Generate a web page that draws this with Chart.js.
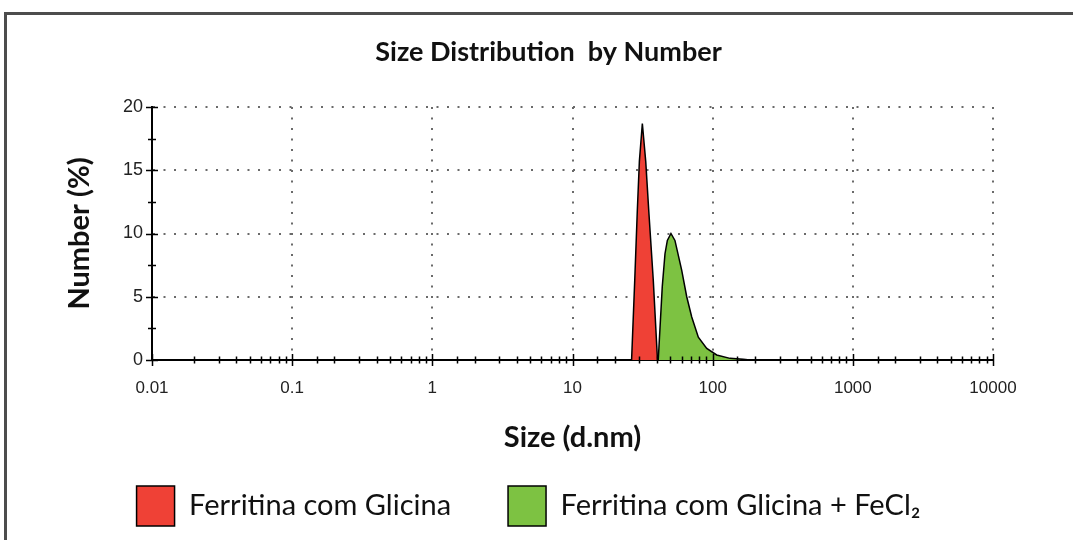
<!DOCTYPE html>
<html>
<head>
<meta charset="utf-8">
<script src="https://cdn.jsdelivr.net/npm/chart.js@4.4.0/dist/chart.umd.min.js"></script>
<style>
html,body{margin:0;padding:0;background:#fff;}
#wrap{width:1073px;height:540px;}
</style>
</head>
<body>
<div id="wrap"><canvas id="c" width="1073" height="540"></canvas></div>
<script>
// ---- data ----
const seriesNames = ['Ferritina com Glicina', 'Ferritina com Glicina + FeCl\u2082'];
const redSizes   = [26.4, 27.8, 29.0, 30.0, 31.5, 33.3, 35.0, 37.7, 40.4];
const redValues  = [0, 6.3, 11.8, 15.7, 18.7, 15.7, 11.8, 6.3, 0];
const greenSizes  = [40.9, 43.7, 45.7, 47.5, 50.4, 53.8, 60.1, 65.3, 70.9, 79.0, 90.7, 106.8, 132.9, 165.4, 184.6];
const greenValues = [0, 5.8, 8.4, 9.45, 10.0, 9.45, 7.1, 5.0, 3.4, 1.8, 0.92, 0.4, 0.13, 0.05, 0];
const xTickLabels = ['0.01', '0.1', '1', '10', '100', '1000', '10000'];
const yTickLabels = ['0', '5', '10', '15', '20'];
const chartTitle = 'Size Distribution  by Number';
const xAxisTitle = 'Size (d.nm)';
const yAxisTitle = 'Number (%)';
const seriesColors = ['#EF4136', '#7DC242'];

function decadeIndex(v) {
  const e = Math.log10(v);
  const r = Math.round(e);
  return Math.abs(e - r) < 1e-6 ? r + 2 : -1;
}

const framePlugin = {
  id: 'frame',
  beforeDraw(chart) {
    const ctx = chart.ctx;
    ctx.save();
    ctx.fillStyle = '#fff';
    ctx.fillRect(0, 0, chart.width, chart.height);
    ctx.strokeStyle = '#4d4d4d';
    ctx.lineWidth = 3;
    ctx.beginPath();
    ctx.moveTo(5.5, chart.height);
    ctx.lineTo(5.5, 13.5);
    ctx.lineTo(chart.width, 13.5);
    ctx.stroke();
    ctx.restore();
  }
};

const shiftPlugin = {
  id: 'shift',
  afterLayout(chart) {
    chart.titleBlock.left += 52; chart.titleBlock.right += 52;
    chart.legend.left += 32; chart.legend.right += 32;
  }
};

const tickPlugin = {
  id: 'crossTicks',
  afterDraw(chart) {
    const ctx = chart.ctx;
    const xs = chart.scales.x, ys = chart.scales.y;
    ctx.save();
    ctx.strokeStyle = '#000';
    ctx.lineWidth = 1.5;
    ctx.beginPath();
    xs.ticks.forEach(t => {
      const px = Math.round(xs.getPixelForValue(t.value)) + 0.5;
      const h = decadeIndex(t.value) >= 0 ? 6 : 3.5;
      ctx.moveTo(px, xs.top - h); ctx.lineTo(px, xs.top + h);
    });
    ys.ticks.forEach(t => {
      const py = Math.round(ys.getPixelForValue(t.value)) + 0.5;
      const w = (t.value % 5 === 0) ? 6 : 4;
      ctx.moveTo(ys.right - w, py); ctx.lineTo(ys.right + w, py);
    });
    ctx.stroke();
    ctx.restore();
  }
};

const mk = (sizes, vals) => sizes.map((s, i) => ({ x: s, y: vals[i] }));

new Chart(document.getElementById('c'), {
  type: 'line',
  data: {
    datasets: [
      { label: seriesNames[0], data: mk(redSizes, redValues), backgroundColor: seriesColors[0],
        borderColor: '#000', borderWidth: 1.5, fill: 'origin', pointRadius: 0, tension: 0 },
      { label: seriesNames[1], data: mk(greenSizes, greenValues), backgroundColor: seriesColors[1],
        borderColor: '#000', borderWidth: 1.5, fill: 'origin', pointRadius: 0, tension: 0 }
    ]
  },
  options: {
    responsive: false,
    animation: false,
    devicePixelRatio: 1,
    layout: { padding: { left: 0, right: 80, top: 0, bottom: 4 } },
    plugins: {
      title: { display: true, text: chartTitle, color: '#111',
        font: { family: 'Lato', size: 27, weight: 'bold' }, padding: { top: 36, bottom: 38.6 } },
      legend: { position: 'bottom',
        labels: { boxWidth: 38, boxHeight: 40, padding: 57, color: '#111',
          font: { family: 'Lato', size: 29 } } },
      tooltip: { enabled: false }
    },
    scales: {
      x: {
        type: 'logarithmic', min: 0.01, max: 10000,
        afterFit: s => { s.height = 69; },
        ticks: { autoSkip: false, maxRotation: 0, minRotation: 0, padding: 18, color: '#222',
          font: { family: 'Liberation Sans', size: 17 },
          callback: v => { const i = decadeIndex(v); return i >= 0 ? xTickLabels[i] : ''; } },
        grid: { drawTicks: false, lineWidth: 2,
          color: c => (c.tick && decadeIndex(c.tick.value) >= 0) ? '#6a6a6a' : 'rgba(0,0,0,0)' },
        border: { display: true, color: '#000', width: 2, dash: [2, 8.5] },
        title: { display: true, text: xAxisTitle, color: '#111',
          font: { family: 'Lato', size: 29, weight: 'bold' }, padding: { top: 0, bottom: -26 } }
      },
      y: {
        min: 0, max: 20,
        afterFit: s => { s.width = 152; },
        ticks: { stepSize: 2.5, padding: 9, color: '#222',
          font: { family: 'Liberation Sans', size: 18 },
          callback: v => (v % 5 === 0) ? yTickLabels[v / 5] : '' },
        grid: { drawTicks: false, lineWidth: 2,
          color: c => (c.tick && c.tick.value % 5 === 0) ? '#6a6a6a' : 'rgba(0,0,0,0)' },
        border: { display: true, color: '#000', width: 2, dash: [2, 8.5] },
        title: { display: true, text: yAxisTitle, color: '#111',
          font: { family: 'Lato', size: 29, weight: 'bold' }, padding: { top: 62, bottom: 0 } }
      }
    }
  },
  plugins: [framePlugin, shiftPlugin, tickPlugin]
});
</script>
</body>
</html>
